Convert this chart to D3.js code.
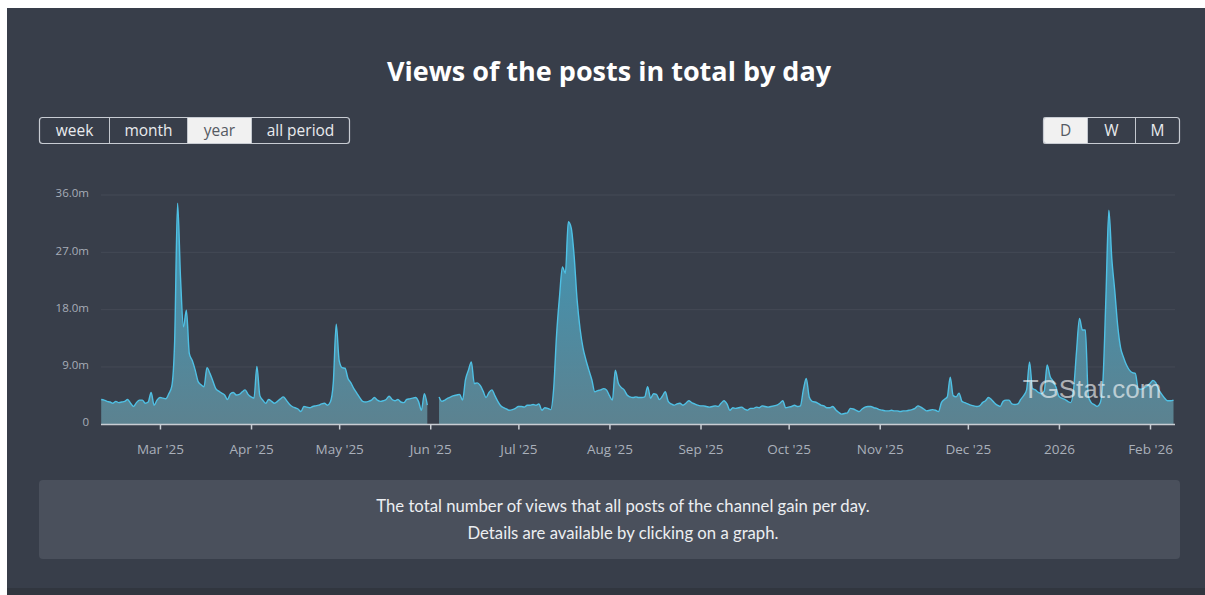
<!DOCTYPE html>
<html>
<head>
<meta charset="utf-8">
<script src="https://cdn.jsdelivr.net/npm/d3@7"></script>
<style>
  html, body { margin: 0; padding: 0; background: #ffffff; }
  svg { display: block; }
</style>
</head>
<body>
<svg id="chart" width="1205" height="595"></svg>
<script>
// ---------- DATA ----------
const startDate = "2025-02-09";           // first day shown
const endDate = "2026-02-09";             // last day shown
// Daily views of all posts, in millions (null = no data)
const views = [
  3.9, 3.8, 3.6, 3.5, 3.3, 3.6, 3.4, 3.5, 3.6, 3.9,
  3.3, 2.8, 3.4, 3.8, 3.8, 3.3, 3.5, 5.0, 3.0, 3.8,
  4.2, 4.1, 4.0, 4.8, 5.9, 13.0, 34.7, 23.0, 15.3, 17.9,
  11.1, 10.0, 8.5, 6.7, 6.2, 5.9, 8.9, 8.0, 6.8, 5.6,
  5.2, 4.9, 4.6, 3.9, 4.8, 5.0, 4.6, 4.7, 5.1, 5.4,
  4.7, 4.3, 4.1, 9.1, 4.5, 3.8, 3.3, 3.9, 3.6, 3.3,
  3.6, 4.0, 4.3, 3.8, 3.2, 2.8, 2.6, 2.4, 2.0, 2.8,
  2.7, 2.6, 2.8, 2.9, 3.0, 3.2, 3.3, 3.0, 3.5, 6.5,
  15.7, 10.0, 8.9, 8.8, 7.2, 6.5, 5.6, 4.9, 4.2, 3.6,
  3.5, 3.6, 3.8, 4.2, 3.8, 3.6, 3.7, 3.9, 4.4, 3.9,
  3.7, 3.9, 3.5, 3.4, 3.9, 4.0, 4.1, 4.2, 3.6, 2.2,
  4.8, 3.0, null, null, null, 4.3, 3.6, 3.8, 4.1, 4.3,
  4.5, 4.6, 4.7, 3.8, 7.0, 8.5, 9.8, 6.4, 6.5, 6.1,
  5.2, 4.2, 5.0, 5.4, 4.5, 3.6, 2.9, 2.6, 2.4, 2.2,
  2.3, 2.5, 2.8, 2.8, 2.7, 3.0, 3.0, 3.1, 3.0, 3.2,
  2.2, 2.6, 2.5, 2.3, 5.5, 14.0, 20.0, 24.7, 23.7, 31.8,
  30.8, 26.3, 19.5, 15.0, 12.0, 10.1, 8.5, 7.0, 5.1, 5.3,
  5.4, 5.6, 5.4, 4.5, 3.8, 8.5, 6.5, 5.8, 5.4, 4.6,
  4.3, 4.2, 4.3, 4.2, 4.2, 4.3, 5.9, 4.1, 4.8, 4.7,
  3.9, 4.4, 5.1, 3.6, 3.2, 3.0, 3.2, 3.3, 3.0, 3.3,
  3.7, 3.4, 3.2, 3.0, 2.9, 2.9, 2.8, 2.7, 2.8, 2.9,
  2.8, 3.3, 3.7, 3.2, 2.2, 2.6, 2.5, 2.6, 2.7, 2.4,
  2.2, 2.5, 2.5, 2.7, 2.6, 2.9, 2.8, 2.7, 2.8, 2.9,
  3.0, 3.3, 3.7, 2.6, 2.7, 2.8, 3.0, 2.8, 2.9, 5.4,
  7.2, 4.3, 3.6, 3.5, 3.3, 3.0, 2.9, 2.6, 2.6, 2.8,
  2.3, 1.9, 1.6, 1.7, 1.8, 2.5, 2.4, 2.2, 2.0, 2.4,
  2.7, 2.8, 2.8, 2.6, 2.5, 2.3, 2.2, 2.1, 2.1, 2.2,
  2.1, 2.1, 2.0, 2.1, 2.1, 2.2, 2.3, 2.5, 2.9, 2.7,
  2.4, 2.1, 2.2, 2.3, 2.2, 2.0, 3.4, 3.9, 4.3, 7.4,
  4.5, 4.3, 4.9, 3.6, 3.4, 3.2, 3.0, 2.9, 2.8, 2.9,
  3.4, 3.7, 4.2, 3.9, 3.4, 3.0, 2.8, 3.6, 3.8, 3.8,
  3.2, 3.1, 3.2, 3.9, 4.5, 5.4, 9.8, 5.6, 5.4, 5.0,
  4.8, 5.2, 9.3, 7.5, 6.8, 5.8, 4.4, 4.1, 3.9, 3.6,
  3.4, 5.5, 11.5, 16.6, 14.8, 14.8, 4.4, 3.4, 3.1, 2.8,
  3.3, 7.0, 20.0, 33.6, 26.0, 21.0, 15.5, 12.0, 10.5, 9.3,
  8.5, 8.1, 8.0, 5.6, 5.5, 5.7, 6.0, 6.4, 6.9, 6.5,
  5.4, 4.7, 4.1, 3.7, 3.7, 3.8
];
const yTicks = [0, 9, 18, 27, 36];
const xTickDates = ["2025-03-01","2025-04-01","2025-05-01","2025-06-01","2025-07-01","2025-08-01",
                    "2025-09-01","2025-10-01","2025-11-01","2025-12-01","2026-01-01","2026-02-01"];
const periodButtons = ["week", "month", "year", "all period"];
const periodActive = "year";
const groupButtons = ["D", "W", "M"];
const groupActive = "D";
const titleText = "Views of the posts in total by day";
const noteLines = ["The total number of views that all posts of the channel gain per day.",
                   "Details are available by clicking on a graph."];
const watermark = "TGStat.com";

// ---------- SETUP ----------
const parse = d3.utcParse("%Y-%m-%d");
const t0 = parse(startDate);
const series = views.map((v, i) => ({ date: d3.utcDay.offset(t0, i), value: v }));

const svg = d3.select("#chart");
const W = 1205, H = 595;
const font = "Lato, 'Open Sans', sans-serif";
const font2 = "'Open Sans', Lato, sans-serif";

// panel
svg.append("rect").attr("x", 7).attr("y", 8).attr("width", W - 7).attr("height", 580).attr("fill", "#383e4a");
svg.append("rect").attr("x", 7).attr("y", 588).attr("width", W - 7).attr("height", 7).attr("fill", "#31363f");

// title
svg.append("text").attr("x", 609).attr("y", 81).attr("text-anchor", "middle")
  .attr("font-family", font2).attr("font-weight", 700).attr("font-size", 27)
  .attr("fill", "#ffffff").text(titleText);

// segmented buttons
function buttonGroup(labels, active, edges, y0, h) {
  const g = svg.append("g");
  labels.forEach((lab, i) => {
    const xa = edges[i], xb = edges[i + 1];
    if (lab === active) {
      g.append("rect").attr("x", xa).attr("y", y0).attr("width", xb - xa).attr("height", h)
        .attr("fill", "#f1f1f1");
    }
    g.append("text").attr("x", (xa + xb) / 2).attr("y", y0 + h / 2 + 5).attr("text-anchor", "middle")
      .attr("font-family", font2).attr("font-size", 15.5)
      .attr("fill", lab === active ? "#555a63" : "#e9ebee").text(lab);
    if (i > 0) {
      g.append("line").attr("x1", xa).attr("x2", xa).attr("y1", y0).attr("y2", y0 + h)
        .attr("stroke", "#c3c7ce").attr("stroke-width", 1);
    }
  });
  g.append("rect").attr("x", edges[0]).attr("y", y0).attr("width", edges[edges.length - 1] - edges[0])
    .attr("height", h).attr("rx", 3).attr("fill", "none").attr("stroke", "#c8ccd3").attr("stroke-width", 1.2);
}
buttonGroup(periodButtons, periodActive, [39.5, 109.5, 187.5, 251.5, 349.5], 117.5, 26);
buttonGroup(groupButtons, groupActive, [1043.5, 1087.5, 1135.5, 1179.5], 117.5, 26);

// scales
const x = d3.scaleUtc().domain([parse(startDate), parse(endDate)]).range([101.2, 1173.5]);
const y = d3.scaleLinear().domain([0, 36]).range([424.3, 195]);

// gridlines
svg.append("g").selectAll("line").data(yTicks.filter(v => v > 0)).join("line")
  .attr("x1", 101).attr("x2", 1175).attr("y1", d => y(d)).attr("y2", d => y(d))
  .attr("stroke", "#444a56").attr("stroke-width", 1);

// y axis
const yAxis = d3.axisLeft(y).tickValues(yTicks).tickSize(0).tickPadding(12)
  .tickFormat(v => v === 0 ? "0" : v.toFixed(1) + "m");
const gy = svg.append("g").attr("transform", "translate(101,-2)").call(yAxis);
gy.select(".domain").remove();
gy.selectAll("text").attr("font-family", font2).attr("font-size", 11.5).attr("fill", "#a7adb8");

// area gradient
const defs = svg.append("defs");
const grad = defs.append("linearGradient").attr("id", "fillGrad")
  .attr("gradientUnits", "userSpaceOnUse").attr("x1", 0).attr("x2", 0).attr("y1", 195).attr("y2", 424);
grad.append("stop").attr("offset", "0%").attr("stop-color", "#3d9fc2");
grad.append("stop").attr("offset", "100%").attr("stop-color", "#5f8896");

const area = d3.area().defined(d => d.value != null).curve(d3.curveMonotoneX)
  .x(d => x(d.date)).y0(y(0)).y1(d => y(d.value));
const line = d3.line().defined(d => d.value != null).curve(d3.curveMonotoneX)
  .x(d => x(d.date)).y(d => y(d.value));

svg.append("path").datum(series).attr("d", area).attr("fill", "url(#fillGrad)").attr("opacity", 0.92);
svg.append("path").datum(series).attr("d", line).attr("fill", "none")
  .attr("stroke", "#4fc0e4").attr("stroke-width", 1.4);

// x axis
const fmtMonth = d3.utcFormat("%b '%y");
const xAxis = d3.axisBottom(x).tickValues(xTickDates.map(parse)).tickSize(5).tickPadding(15)
  .tickFormat(d => d.getUTCMonth() === 0 ? d3.utcFormat("%Y")(d) : fmtMonth(d));
const gx = svg.append("g").attr("transform", "translate(0,424.5)").call(xAxis);
gx.select(".domain").attr("d", "M101,0H1175").attr("stroke", "#c9cdd3").attr("stroke-width", 1.5);
gx.selectAll(".tick line").attr("stroke", "#c9cdd3").attr("stroke-width", 1.5);
gx.selectAll("text").attr("font-family", font2).attr("font-size", 13.5).attr("fill", "#aab0ba");

// watermark
svg.append("text").attr("x", 1092).attr("y", 398).attr("text-anchor", "middle")
  .attr("font-family", "'Liberation Sans', Arial, sans-serif").attr("font-size", 26)
  .attr("fill", "#ffffff").attr("fill-opacity", 0.6).text(watermark);

// note box
svg.append("rect").attr("x", 39).attr("y", 480).attr("width", 1141).attr("height", 79).attr("rx", 4)
  .attr("fill", "#4a505c");
noteLines.forEach((t, i) => {
  svg.append("text").attr("x", 623).attr("y", 512 + i * 27).attr("text-anchor", "middle")
    .attr("font-family", font).attr("font-size", 16.7).attr("fill", "#eceef1").text(t);
});
</script>
</body>
</html>
